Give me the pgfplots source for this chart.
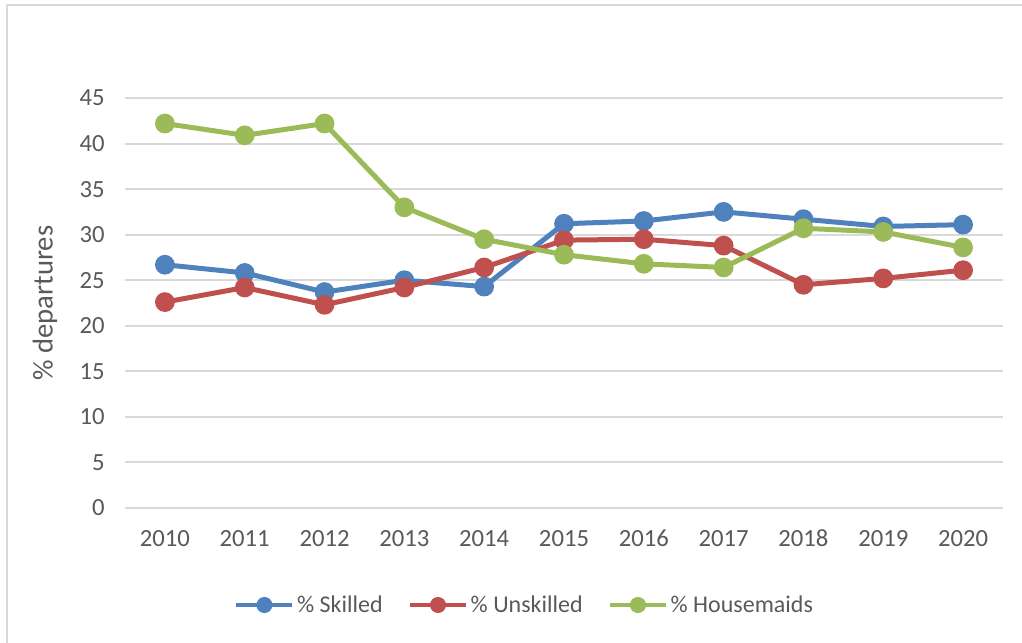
\documentclass[border=0pt]{standalone}
\usepackage{pgfplots}
\pgfplotsset{compat=1.18}
\usepackage{fontspec}
\setmainfont{Carlito}
\definecolor{cblue}{HTML}{4F81BD}
\definecolor{cred}{HTML}{C0504D}
\definecolor{cgreen}{HTML}{9BBB59}
\definecolor{cgrid}{HTML}{D9D9D9}
\definecolor{ctext}{HTML}{595959}
\begin{document}
\begin{tikzpicture}
\useasboundingbox (0,0) rectangle (766.5pt,482.25pt);
\draw[cgrid, line width=1.5pt] (5.25pt,0pt) -- (5.25pt,478.5pt) -- (766.5pt,478.5pt);
\begin{axis}[
  at={(93.75pt,101.25pt)}, anchor=south west,
  scale only axis, width=658.5pt, height=307.5pt,
  xmin=-0.5, xmax=10.5, ymin=0, ymax=45,
  xtick={0,...,10},
  xticklabels={2010,2011,2012,2013,2014,2015,2016,2017,2018,2019,2020},
  ytick={0,5,...,45},
  axis line style={draw=none},
  major tick length=0pt,
  ymajorgrids, grid style={cgrid, line width=1.5pt},
  tick label style={font=\fontsize{18.5pt}{22pt}\selectfont},
  /pgf/number format/assume math mode=true,
  tick label style={text=ctext},
  yticklabel style={anchor=east, inner sep=0pt, xshift=-15pt},
  xticklabel style={anchor=base, inner sep=0pt, yshift=-29.25pt},
  ylabel={\% departures},
  ylabel style={at={(axis description cs:-0.0911,0.5)}, anchor=center, text=ctext, font=\fontsize{21.5pt}{25pt}\selectfont},
  legend columns=3,
  legend style={at={(axis description cs:0.4556,-0.2366)}, anchor=center, draw=none, fill=none,
    font=\fontsize{18pt}{21pt}\selectfont, text=ctext, inner sep=0pt,
    /tikz/every odd column/.append style={column sep=0pt},
    /tikz/every even column/.append style={column sep=17pt}},
  legend cell align=left,
  legend image code/.code={\draw[#1, line width=3pt, mark size=4.5pt, mark repeat=2, mark phase=2] plot coordinates {(0pt,0pt) (21pt,0pt) (42pt,0pt)};},
  every axis plot/.append style={line width=3.75pt, mark=*, mark size=5.5pt, mark options={solid, line width=0pt}},
  clip=false,
]
\addplot[cblue, mark options={fill=cblue, draw=cblue}] coordinates {
(0,26.7) (1,25.8) (2,23.7) (3,25.0) (4,24.3) (5,31.2) (6,31.5) (7,32.5) (8,31.7) (9,30.9) (10,31.1)};
\addlegendentry{\% Skilled}
\addplot[cred, mark options={fill=cred, draw=cred}] coordinates {
(0,22.6) (1,24.2) (2,22.3) (3,24.2) (4,26.4) (5,29.4) (6,29.5) (7,28.8) (8,24.5) (9,25.2) (10,26.1)};
\addlegendentry{\% Unskilled}
\addplot[cgreen, mark options={fill=cgreen, draw=cgreen}] coordinates {
(0,42.2) (1,40.9) (2,42.2) (3,33.0) (4,29.5) (5,27.8) (6,26.8) (7,26.4) (8,30.7) (9,30.3) (10,28.6)};
\addlegendentry{\% Housemaids}
\end{axis}
\end{tikzpicture}
\end{document}
